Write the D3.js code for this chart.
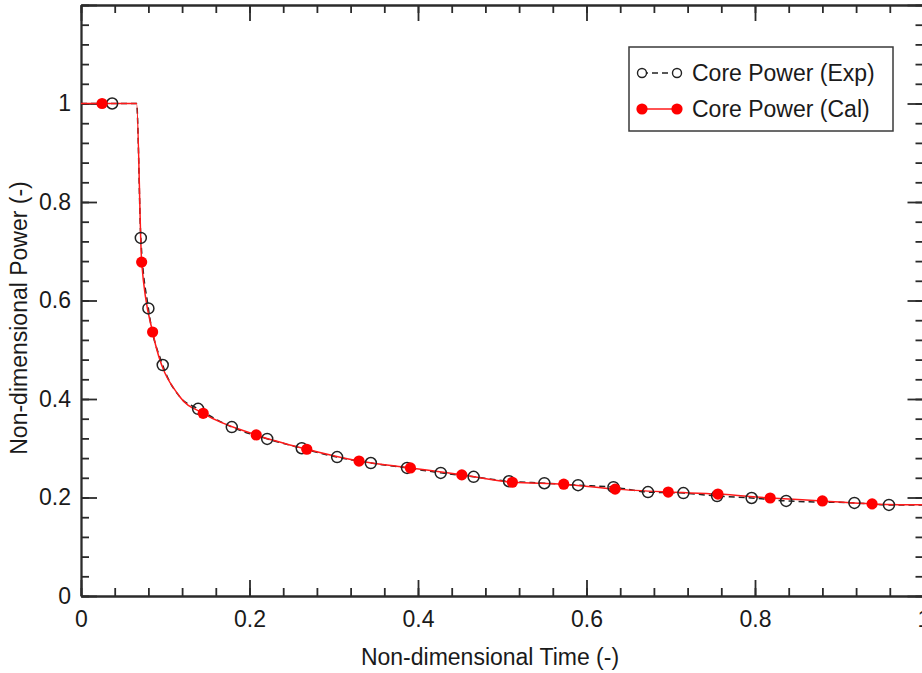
<!DOCTYPE html>
<html>
<head>
<meta charset="utf-8">
<script src="https://cdn.jsdelivr.net/npm/d3@7"></script>
<style>
  html, body { margin: 0; padding: 0; background: #fff; }
  svg { display: block; font-family: "Liberation Sans", Arial, sans-serif; }
  .axis path, .axis line { stroke: #2b2b2b; stroke-width: 1.8; }
  .axis text { fill: #1a1a1a; font-size: 23px; }
</style>
</head>
<body>
<div id="app"></div>
<script>
// measured (experimental) core power
var expTime  = [0.037, 0.071, 0.080, 0.097, 0.139, 0.179, 0.221, 0.262, 0.304, 0.344, 0.387, 0.427,
                0.466, 0.508, 0.550, 0.590, 0.632, 0.673, 0.715, 0.755, 0.796, 0.837, 0.918, 0.959];
var expPower = [1.000, 0.727, 0.584, 0.469, 0.380, 0.343, 0.319, 0.300, 0.282, 0.270, 0.260, 0.250,
                0.242, 0.233, 0.229, 0.225, 0.221, 0.211, 0.209, 0.203, 0.199, 0.193, 0.189, 0.185];

// calculated core power (markers)
var calTime  = [0.025, 0.072, 0.085, 0.145, 0.208, 0.268, 0.330, 0.391, 0.452, 0.512, 0.573, 0.634,
                0.697, 0.756, 0.818, 0.880, 0.939];
var calPower = [1.000, 0.678, 0.536, 0.371, 0.327, 0.298, 0.274, 0.260, 0.246, 0.231, 0.227, 0.217,
                0.211, 0.207, 0.199, 0.193, 0.187];

// curve knots read off the picture where there are no markers (step corner, knee, ends)
var edgeTime  = [0.000, 0.066, 0.1175, 1.000];
var edgePower = [1.000, 1.000, 0.404, 0.185];

var xTickValues = [0, 0.2, 0.4, 0.6, 0.8, 1];
var xTickLabels = ["0", "0.2", "0.4", "0.6", "0.8", "1"];
var yTickValues = [0, 0.2, 0.4, 0.6, 0.8, 1, 1.2];
var yTickLabels = ["0", "0.2", "0.4", "0.6", "0.8", "1", ""];

var seriesNames = ["Core Power (Exp)", "Core Power (Cal)"];

var W = 922, H = 673;
var margin = {top: 5, right: -1.5, bottom: 77, left: 81},
    width = W - margin.left - margin.right,
    height = H - margin.top - margin.bottom;

var x = d3.scaleLinear().domain([0, 1]).range([0, width]);
var y = d3.scaleLinear().domain([0, 1.2]).range([height, 0]);

var svg = d3.select("#app").append("svg")
    .attr("width", W)
    .attr("height", H)
  .append("g")
    .attr("transform", "translate(" + margin.left + "," + margin.top + ")");

var minorX = d3.range(0, 1.0001, 0.04),
    minorY = d3.range(0, 1.2001, 0.04);

function addAxis(gen, tx, ty, values, size, pad, labels) {
  var g = svg.append("g")
      .attr("class", "axis")
      .attr("transform", "translate(" + tx + "," + ty + ")")
      .call(gen.tickValues(values)
          .tickSizeInner(-size)
          .tickSizeOuter(0)
          .tickPadding(pad)
          .tickFormat(function(d, i) { return labels ? labels[i] : ""; }));
  g.select(".domain").attr("fill", "none");
  return g;
}

// minor ticks on all four sides
addAxis(d3.axisBottom(x), 0, height, minorX, 8, 0, null);
addAxis(d3.axisTop(x), 0, 0, minorX, 8, 0, null);
addAxis(d3.axisLeft(y), 0, 0, minorY, 8, 0, null);
addAxis(d3.axisRight(y), width, 0, minorY, 8, 0, null);
// major ticks
addAxis(d3.axisBottom(x), 0, height, xTickValues, 16, 15, xTickLabels);
addAxis(d3.axisTop(x), 0, 0, xTickValues, 16, 0, null);
addAxis(d3.axisLeft(y), 0, 0, yTickValues, 16, 10, yTickLabels);
addAxis(d3.axisRight(y), width, 0, yTickValues, 16, 0, null);

// axis titles
svg.append("text")
    .attr("x", 409)
    .attr("y", height + 69)
    .attr("text-anchor", "middle")
    .attr("fill", "#1a1a1a")
    .style("font-size", "23px")
    .text("Non-dimensional Time (-)");

svg.append("text")
    .attr("transform", "translate(-54," + 313 + ") rotate(-90)")
    .attr("text-anchor", "middle")
    .attr("fill", "#1a1a1a")
    .style("font-size", "23px")
    .text("Non-dimensional Power (-)");

function zipSorted(t1, p1, t2, p2) {
  var pts = t1.map(function(t, i) { return [t, p1[i]]; })
      .concat(t2.map(function(t, i) { return [t, p2[i]]; }));
  return pts.sort(function(a, b) { return a[0] - b[0]; });
}

var line = d3.line()
    .x(function(d) { return x(d[0]); })
    .y(function(d) { return y(d[1]); })
    .curve(d3.curveMonotoneX);

var expLine = zipSorted(expTime, expPower, edgeTime, edgePower);
var calLine = zipSorted(calTime, calPower, edgeTime, edgePower);

svg.append("path")
    .datum(expLine)
    .attr("fill", "none")
    .attr("stroke", "#222")
    .attr("stroke-width", 1.5)
    .attr("stroke-dasharray", "6,4")
    .attr("d", line);

svg.append("path")
    .datum(calLine)
    .attr("fill", "none")
    .attr("stroke", "#ff1a1a")
    .attr("stroke-width", 1.5)
    .attr("d", line);

svg.append("g").selectAll("circle")
    .data(expTime)
  .enter().append("circle")
    .attr("cx", function(d) { return x(d); })
    .attr("cy", function(d, i) { return y(expPower[i]); })
    .attr("r", 5.5)
    .attr("fill", "none")
    .attr("stroke", "#222")
    .attr("stroke-width", 1.5);

svg.append("g").selectAll("circle")
    .data(calTime)
  .enter().append("circle")
    .attr("cx", function(d) { return x(d); })
    .attr("cy", function(d, i) { return y(calPower[i]); })
    .attr("r", 5.6)
    .attr("fill", "#ff0000");

// legend
var lg = svg.append("g")
    .attr("transform", "translate(" + (629 - margin.left) + "," + (47 - margin.top) + ")");

lg.append("rect")
    .attr("width", 264)
    .attr("height", 84)
    .attr("fill", "#fff")
    .attr("stroke", "#3a3a3a")
    .attr("stroke-width", 1.5);

var rows = lg.selectAll(".row")
    .data(seriesNames)
  .enter().append("g")
    .attr("class", "row")
    .attr("transform", function(d, i) { return "translate(0," + (26 + i * 36) + ")"; });

rows.append("line")
    .attr("x1", 13).attr("x2", 48)
    .attr("stroke", function(d, i) { return i ? "#ff1a1a" : "#222"; })
    .attr("stroke-width", 1.5)
    .attr("stroke-dasharray", function(d, i) { return i ? null : "6,4"; });

rows.each(function(d, i) {
  d3.select(this).selectAll("circle")
      .data([13, 48])
    .enter().append("circle")
      .attr("cx", function(c) { return c; })
      .attr("r", i ? 5.6 : 4.5)
      .attr("fill", i ? "#ff0000" : "#fff")
      .attr("stroke", i ? "none" : "#222")
      .attr("stroke-width", 1.4);
});

rows.append("text")
    .attr("x", 63)
    .attr("dy", "0.35em")
    .attr("fill", "#1a1a1a")
    .style("font-size", "23px")
    .text(function(d) { return d; });
</script>
</body>
</html>
